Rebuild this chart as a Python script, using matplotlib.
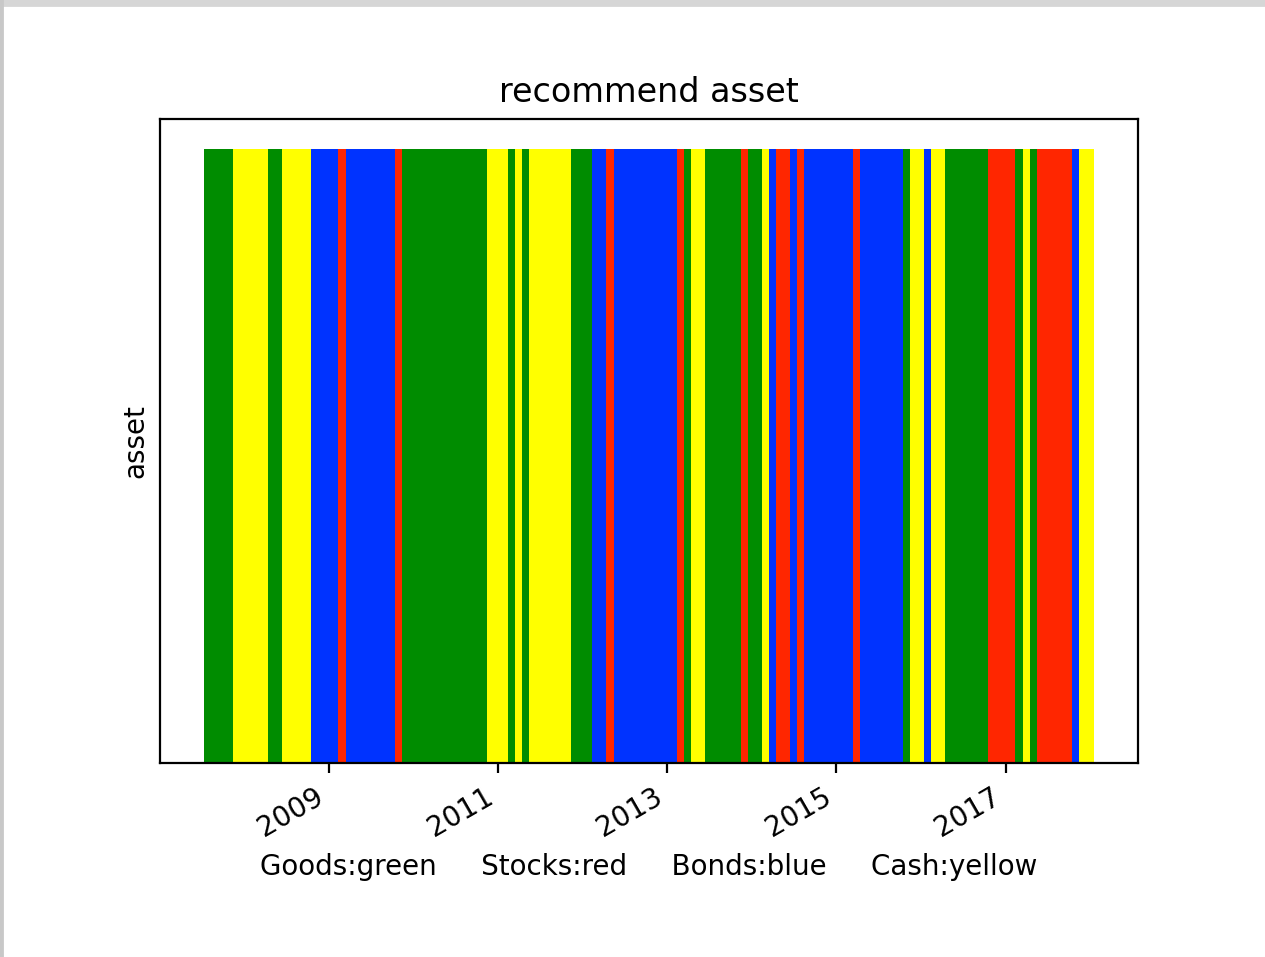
import numpy as np
import pandas as pd
import matplotlib; matplotlib.use("Agg")
import matplotlib.pyplot as plt
import matplotlib.dates as mdates
from matplotlib.patches import Rectangle

# monthly recommended asset, Jul 2007 .. Dec 2017 (G=Goods, S=Stocks, B=Bonds, C=Cash)
START, END = "2007-07-31", "2017-12-31"
PICK_2007 = ["G","G","G","G","C","C"]
PICK_2008 = ["C","C","C","G","G","C","C","C","C","B","B","B"]
PICK_2009 = ["B","S","B","B","B","B","B","B","B","S","G","G"]
PICK_2010 = ["G","G","G","G","G","G","G","G","G","G","C","C"]
PICK_2011 = ["C","G","C","G","C","C","C","C","C","C","G","G"]
PICK_2012 = ["G","B","B","S","B","B","B","B","B","B","B","B"]
PICK_2013 = ["B","S","G","C","C","G","G","G","G","G","S","G"]
PICK_2014 = ["G","C","B","S","S","B","S","B","B","B","B","B"]
PICK_2015 = ["B","B","S","B","B","B","B","B","B","G","C","C"]
PICK_2016 = ["B","C","C","G","G","G","G","G","G","S","S","S"]
PICK_2017 = ["S","G","C","G","S","S","S","S","S","B","C","C"]
PICKS = (PICK_2007 + PICK_2008 + PICK_2009 + PICK_2010 + PICK_2011 + PICK_2012
         + PICK_2013 + PICK_2014 + PICK_2015 + PICK_2016 + PICK_2017)
TICK_YEARS = [2009, 2011, 2013, 2015, 2017]

COL = {"G": "#008c00", "S": "#ff2600", "B": "#0033ff", "C": "#ffff00"}

dates = pd.date_range(START, END, freq="ME")
colors = [COL[p] for p in PICKS]

fig = plt.figure(figsize=(6.325, 4.785), dpi=200)
ax = fig.add_subplot(111)
ax.bar(dates, np.ones(len(dates)), width=31, color=colors, linewidth=0, align="center")
ax.set_xticks([pd.Timestamp(f"{y}-01-01") for y in TICK_YEARS])
ax.xaxis.set_major_formatter(mdates.DateFormatter("%Y"))
ax.set_yticks([])
fig.autofmt_xdate()
fig.subplots_adjust(left=0.1265, right=0.8996, top=0.876, bottom=0.203)
ax.set_title("recommend asset")
ax.set_ylabel("asset")
ax.set_xlabel("Goods:green     Stocks:red     Bonds:blue     Cash:yellow")

# screenshot window edge
fig.patches.append(Rectangle((0, 0.9945), 1, 0.0055, transform=fig.transFigure,
                             color="#d6d6d6", zorder=10))
fig.patches.append(Rectangle((0, 0), 0.0016, 1, transform=fig.transFigure,
                             color="#c8c8c8", zorder=10))
fig.savefig("out.png", dpi=200)
